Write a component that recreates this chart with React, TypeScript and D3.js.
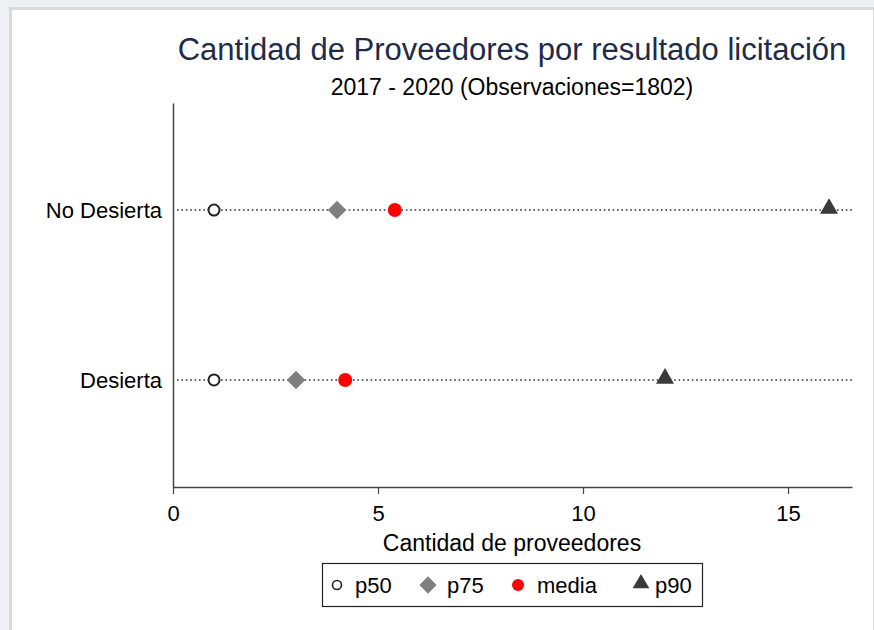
import React, { useRef, useEffect } from "react";
import * as d3 from "d3";

const width = 874;
const height = 630;

const categories = ["No Desierta", "Desierta"];
const p50 = [1, 1];
const p75 = [4, 3];
const media = [5.41, 4.2];
const p90 = [16, 12];
const xTicks = [0, 5, 10, 15];

const legendItems = ["p50", "p75", "media", "p90"];

const font = "'Liberation Sans', Arial, sans-serif";

const App: React.FC = () => {
  const ref = useRef<SVGSVGElement>(null);

  useEffect(() => {
    if (!ref.current) return;
    const svg = d3.select(ref.current);
    svg.selectAll("*").remove();

    // page frame
    svg.append("rect").attr("width", width).attr("height", height).attr("fill", "#eff0f4");
    svg.append("rect").attr("x", 9).attr("y", 7).attr("width", width - 9).attr("height", height - 7).attr("fill", "#d9d9d9");
    svg.append("rect").attr("x", 12).attr("y", 10).attr("width", width - 13).attr("height", height - 10).attr("fill", "#fff");

    const left = 173;
    const right = 852;
    const top = 103;
    const bottom = 487;

    const x = d3.scaleLinear().domain([0, 16.56]).range([left, right]);
    const y = d3.scalePoint<string>().domain(categories).range([top, bottom]).padding(0.63);

    // title
    svg.append("text").attr("x", 512).attr("y", 60).attr("text-anchor", "middle")
      .attr("font-family", font).attr("font-size", 31).attr("fill", "#1e2b4a")
      .text("Cantidad de Proveedores por resultado licitación");
    svg.append("text").attr("x", 512).attr("y", 95).attr("text-anchor", "middle")
      .attr("font-family", font).attr("font-size", 23).attr("fill", "#000")
      .text("2017 - 2020 (Observaciones=1802)");

    // dotted lines
    svg.append("g").selectAll("line").data(categories).enter().append("line")
      .attr("x1", left + 4).attr("x2", right)
      .attr("y1", (d) => y(d) as number).attr("y2", (d) => y(d) as number)
      .attr("stroke", "#333").attr("stroke-width", 1.6).attr("stroke-dasharray", "1.6,2.8");

    // axes
    const xAxis = svg.append("g").attr("transform", `translate(0,${bottom})`)
      .call(d3.axisBottom(x).tickValues(xTicks).tickSize(7).tickSizeOuter(0).tickFormat(d3.format("d")));
    xAxis.select(".domain").attr("stroke", "#444").attr("stroke-width", 1.5);
    xAxis.selectAll(".tick line").attr("stroke", "#444").attr("stroke-width", 1.2);
    xAxis.selectAll(".tick text").attr("font-family", font).attr("font-size", 22).attr("fill", "#000")
      .attr("y", 34).attr("dy", 0);

    const yAxis = svg.append("g").attr("transform", `translate(${left},0)`)
      .call(d3.axisLeft(y).tickSize(0).tickSizeOuter(0).tickPadding(11));
    yAxis.select(".domain").attr("stroke", "#444").attr("stroke-width", 1.5);
    yAxis.selectAll(".tick text").attr("font-family", font).attr("font-size", 22).attr("fill", "#000");

    svg.append("text").attr("x", 512).attr("y", 551).attr("text-anchor", "middle")
      .attr("font-family", font).attr("font-size", 23).attr("fill", "#000")
      .text("Cantidad de proveedores");

    const marks = svg.append("g");
    const diamond = d3.symbol().type(d3.symbolDiamond2).size(220)();
    const tri = d3.symbol().type(d3.symbolTriangle).size(140)();

    categories.forEach((c, i) => {
      const cy = y(c) as number;
      marks.append("circle").attr("cx", x(p50[i])).attr("cy", cy).attr("r", 5.5)
        .attr("fill", "#fff").attr("stroke", "#222").attr("stroke-width", 2);
      marks.append("path").attr("d", diamond).attr("transform", `translate(${x(p75[i])},${cy})`)
        .attr("fill", "#7f7f7f");
      marks.append("circle").attr("cx", x(media[i])).attr("cy", cy).attr("r", 7).attr("fill", "#ff0000");
      marks.append("path").attr("d", tri).attr("transform", `translate(${x(p90[i])},${cy - 1.5})`)
        .attr("fill", "#3a3a3a");
    });

    // legend
    const lg = svg.append("g");
    lg.append("rect").attr("x", 322.5).attr("y", 563.5).attr("width", 380).attr("height", 43)
      .attr("fill", "#fff").attr("stroke", "#222").attr("stroke-width", 1.2);
    const ly = 585;
    const lx = [337, 428, 518, 641];
    const tx = [355, 447, 537, 655];
    lg.append("circle").attr("cx", lx[0]).attr("cy", ly).attr("r", 4.5)
      .attr("fill", "#fff").attr("stroke", "#222").attr("stroke-width", 1.6);
    lg.append("path").attr("d", d3.symbol().type(d3.symbolDiamond2).size(190)())
      .attr("transform", `translate(${lx[1]},${ly})`).attr("fill", "#7f7f7f");
    lg.append("circle").attr("cx", lx[2]).attr("cy", ly).attr("r", 6).attr("fill", "#ff0000");
    lg.append("path").attr("d", d3.symbol().type(d3.symbolTriangle).size(120)())
      .attr("transform", `translate(${lx[3]},${ly - 1.5})`).attr("fill", "#3a3a3a");
    legendItems.forEach((t, i) => {
      lg.append("text").attr("x", tx[i]).attr("y", 593)
        .attr("font-family", font).attr("font-size", 22).attr("fill", "#000").text(t);
    });
  }, []);

  return (
    <div style={{ position: "fixed", left: 0, top: 0 }}>
      <svg ref={ref} width={width} height={height} style={{ display: "block" }} />
    </div>
  );
};

export default App;
